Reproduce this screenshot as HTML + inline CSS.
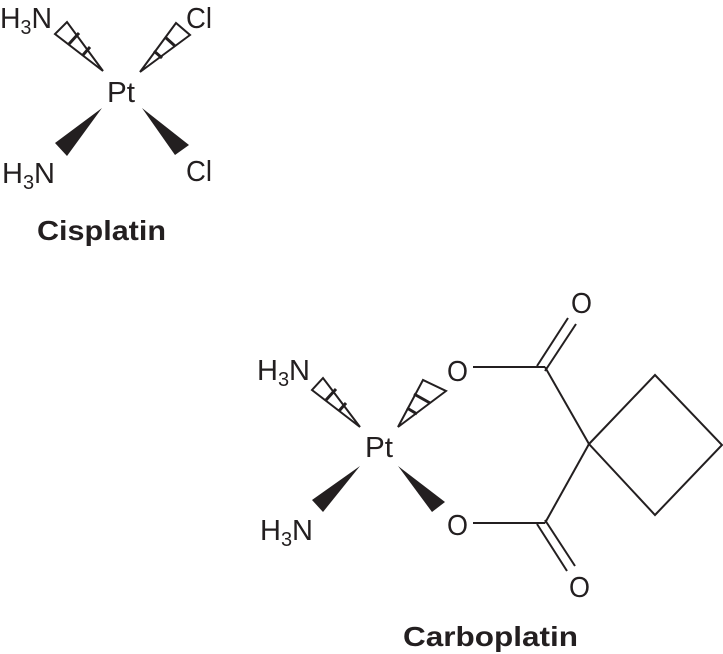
<!DOCTYPE html>
<html><head><style>html,body{margin:0;padding:0;background:#fff}</style></head>
<body>
<svg width="723" height="654" viewBox="0 0 723 654" xmlns="http://www.w3.org/2000/svg" style="display:block">
<g font-family="Liberation Sans, sans-serif" font-size="29" fill="#231f20">
<!-- Cisplatin -->
<text x="0" y="28" textLength="52" lengthAdjust="spacingAndGlyphs">H<tspan font-size="20" dy="6">3</tspan><tspan dy="-6">N</tspan></text>
<text x="186" y="28" textLength="26" lengthAdjust="spacingAndGlyphs">Cl</text>
<text x="107" y="102" textLength="28" lengthAdjust="spacingAndGlyphs">Pt</text>
<text x="2" y="183" textLength="53" lengthAdjust="spacingAndGlyphs">H<tspan font-size="20" dy="6">3</tspan><tspan dy="-6">N</tspan></text>
<text x="186" y="181" textLength="26" lengthAdjust="spacingAndGlyphs">Cl</text>
<text x="37" y="240" font-weight="bold" font-size="28" textLength="129" lengthAdjust="spacingAndGlyphs">Cisplatin</text>
<!-- Carboplatin -->
<text x="257" y="380" textLength="53" lengthAdjust="spacingAndGlyphs">H<tspan font-size="20" dy="6">3</tspan><tspan dy="-6">N</tspan></text>
<text x="365" y="457" textLength="28" lengthAdjust="spacingAndGlyphs">Pt</text>
<text x="260" y="540" textLength="53" lengthAdjust="spacingAndGlyphs">H<tspan font-size="20" dy="6">3</tspan><tspan dy="-6">N</tspan></text>
<text x="447" y="381" textLength="21" lengthAdjust="spacingAndGlyphs">O</text>
<text x="447" y="535" textLength="21" lengthAdjust="spacingAndGlyphs">O</text>
<text x="571" y="313" textLength="21" lengthAdjust="spacingAndGlyphs">O</text>
<text x="569" y="597" textLength="21" lengthAdjust="spacingAndGlyphs">O</text>
<text x="403" y="646" font-weight="bold" font-size="28" textLength="175" lengthAdjust="spacingAndGlyphs">Carboplatin</text>
</g>
<g stroke="#231f20" stroke-width="2" fill="none" stroke-linejoin="miter">
<polygon points="103,71 55,34 67,22"/>
<line x1="69" y1="44" x2="79" y2="33" stroke-width="3"/>
<line x1="83" y1="55" x2="90" y2="47" stroke-width="3"/>
<polygon points="140,72 176,23 190,35"/>
<line x1="165" y1="37" x2="175" y2="46" stroke-width="3"/>
<line x1="154" y1="51" x2="162" y2="58" stroke-width="3"/>
<polygon points="360,427 312,390 323,378"/>
<line x1="326" y1="400" x2="336" y2="389" stroke-width="3"/>
<line x1="339" y1="411" x2="346" y2="403" stroke-width="3"/>
<polygon points="398,427 423,380 446,391"/>
<line x1="414" y1="394" x2="430" y2="403" stroke-width="3"/>
<line x1="407" y1="408" x2="417" y2="414" stroke-width="3"/>
<line x1="473" y1="367" x2="545" y2="367"/>
<line x1="545" y1="367" x2="589" y2="444"/>
<line x1="537" y1="366" x2="568" y2="318"/>
<line x1="545" y1="371" x2="576" y2="324"/>
<line x1="473" y1="523" x2="545" y2="523"/>
<line x1="545" y1="523" x2="589" y2="444"/>
<line x1="537" y1="524" x2="567" y2="571"/>
<line x1="545" y1="520" x2="575" y2="566"/>
<polygon points="589,444 655,375 722,445 655,515"/>
</g>
<g fill="#231f20">
<polygon points="102,108 55,143 67,156"/>
<polygon points="142,108 175,155 189,145"/>
<polygon points="360,466 312,500 323,512"/>
<polygon points="398,466 432,512 445,502"/>
</g>
</svg>
</body></html>
